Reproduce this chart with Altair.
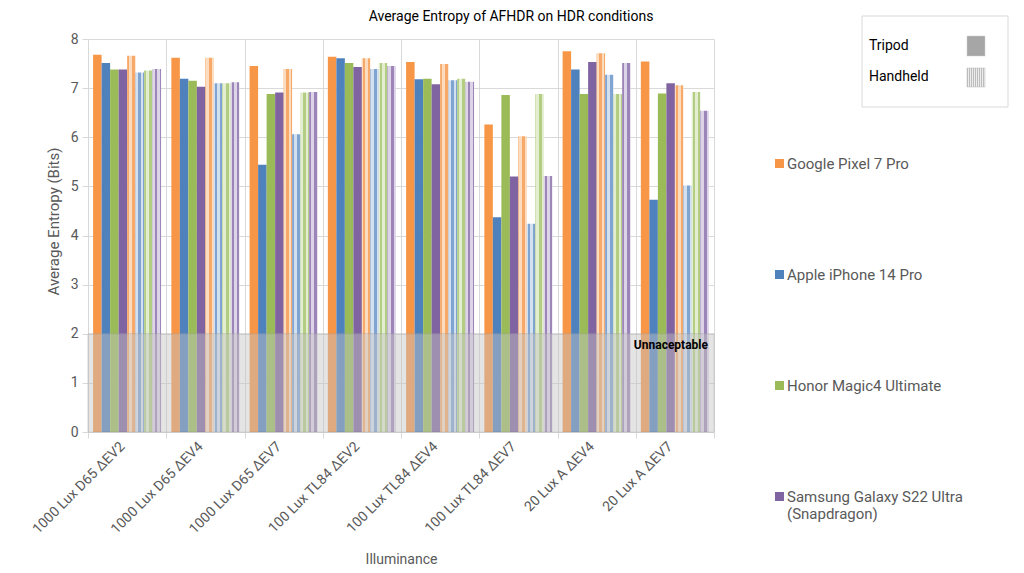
import altair as alt
import pandas as pd

conditions = ["1000 Lux D65 ΔEV2", "1000 Lux D65 ΔEV4", "1000 Lux D65 ΔEV7",
              "100 Lux TL84 ΔEV2", "100 Lux TL84 ΔEV4", "100 Lux TL84 ΔEV7",
              "20 Lux A ΔEV4", "20 Lux A ΔEV7"]
devices = ["Google Pixel 7 Pro", "Apple iPhone 14 Pro", "Honor Magic4 Ultimate",
           "Samsung Galaxy S22 Ultra (Snapdragon)"]
mounts = ["Tripod", "Handheld"]

tripod_pixel = [7.68, 7.62, 7.45, 7.64, 7.53, 6.26, 7.75, 7.54]
tripod_iphone = [7.51, 7.19, 5.44, 7.61, 7.18, 4.37, 7.38, 4.73]
tripod_honor = [7.38, 7.15, 6.88, 7.51, 7.19, 6.86, 6.88, 6.89]
tripod_samsung = [7.38, 7.03, 6.91, 7.43, 7.08, 5.20, 7.53, 7.10]
handheld_pixel = [7.66, 7.62, 7.39, 7.61, 7.49, 6.02, 7.71, 7.06]
handheld_iphone = [7.32, 7.10, 6.06, 7.39, 7.16, 4.24, 7.27, 5.02]
handheld_honor = [7.36, 7.10, 6.91, 7.51, 7.19, 6.88, 6.88, 6.92]
handheld_samsung = [7.39, 7.12, 6.92, 7.45, 7.13, 5.21, 7.51, 6.54]

unacceptable_limit = [2.0]

colors = ["#F79646", "#4F81BD", "#9BBB59", "#8064A2"]
hatch_pairs = [("#f6a968", "#fcdcbf"), ("#80a4d2", "#d3e0f0"),
               ("#b3ce83", "#e3eed0"), ("#9c86b9", "#ddd4e8")]

series = {
    ("Tripod", devices[0]): tripod_pixel,
    ("Tripod", devices[1]): tripod_iphone,
    ("Tripod", devices[2]): tripod_honor,
    ("Tripod", devices[3]): tripod_samsung,
    ("Handheld", devices[0]): handheld_pixel,
    ("Handheld", devices[1]): handheld_iphone,
    ("Handheld", devices[2]): handheld_honor,
    ("Handheld", devices[3]): handheld_samsung,
}

rows = []
for (mount, dev), vals in series.items():
    for cond, v in zip(conditions, vals):
        rows.append({"Condition": cond, "Device": dev, "Mount": mount,
                     "Series": mount + "|" + dev, "Value": v})
df = pd.DataFrame(rows)
series_order = [m + "|" + d for m in mounts for d in devices]

W, H = 626, 393


def stripes(c1, c2, n=14):
    stops = []
    for i in range(n):
        col = c1 if i % 2 == 0 else c2
        stops.append(alt.GradientStop(color=col, offset=i / n))
        stops.append(alt.GradientStop(color=col, offset=(i + 1) / n))
    return alt.LinearGradient(gradient="linear", stops=stops, x1=0, x2=1, y1=0, y2=0)


x_enc = alt.X("Condition:N", sort=conditions,
              scale=alt.Scale(domain=conditions, paddingInner=0, paddingOuter=0),
              axis=alt.Axis(title="Illuminance", tickBand="extent", labelAngle=-45,
                            labelAlign="right", labelBaseline="middle", labelPadding=6,
                            labelOffset=-5,
                            labelFontSize=14, labelColor="#595959", labelFont="Roboto",
                            tickSize=6, tickColor="#d9d9d9", domainColor="#d9d9d9",
                            grid=True, gridColor="#d9d9d9",
                            titleFontSize=14, titleFontWeight="normal", titleColor="#595959",
                            titleFont="Roboto", titleY=127, titleBaseline="middle",
                            labelOverlap=False))
xoff_enc = alt.XOffset("Series:N", scale=alt.Scale(domain=series_order, paddingInner=0,
                                                    paddingOuter=0.6))
y_axis = alt.Axis(title="Average Entropy (Bits)", values=list(range(9)),
                  labelFontSize=14, labelColor="#595959", labelFont="Roboto",
                  labelPadding=4, tickSize=6, tickColor="#d9d9d9",
                  domainColor="#d9d9d9", gridColor="#d9d9d9",
                  titleFontSize=15, titleFontWeight="normal", titleColor="#595959",
                  titleFont="Roboto", titleX=-35, titleY=182, titleAngle=270,
                  titleBaseline="middle", titleAlign="center")
y_scale = alt.Scale(domain=[0, 8], nice=False)
y_enc = alt.Y("Value:Q", scale=y_scale, axis=y_axis)

tripod = alt.Chart(df).transform_filter(alt.datum.Mount == "Tripod").mark_bar().encode(
    x=x_enc, xOffset=xoff_enc, y=y_enc,
    color=alt.Color("Device:N", scale=alt.Scale(domain=devices, range=colors),
                    legend=alt.Legend(orient="none", legendX=684, legendY=117, title=None,
                                      symbolType="square", symbolSize=81,
                                      symbolStrokeWidth=0, labelFontSize=15,
                                      labelColor="#595959", labelFont="Roboto",
                                      labelLimit=300, rowPadding=95, labelOffset=0,
                                      labelExpr="datum.label == 'Samsung Galaxy S22 Ultra (Snapdragon)' ? ['Samsung Galaxy S22 Ultra', '(Snapdragon)'] : datum.label"))
)

handheld_layers = []
for dev, (c1, c2) in zip(devices, hatch_pairs):
    handheld_layers.append(
        alt.Chart(df).transform_filter(
            (alt.datum.Mount == "Handheld") & (alt.datum.Device == dev)
        ).mark_bar(fill=stripes(c1, c2)).encode(x=x_enc, xOffset=xoff_enc, y=y_enc)
    )

band_df = pd.DataFrame({"Value": [0.0], "Top": unacceptable_limit})
band = alt.Chart(band_df).mark_rect(fill="#c4c4c4", opacity=0.45, stroke="#a0a0a0",
                                    strokeWidth=1).encode(
    x=alt.value(0), x2=alt.value(W), y=y_enc, y2="Top:Q")
band_text = alt.Chart(band_df).mark_text(text="Unnaceptable", fontWeight="bold",
                                         fontSize=12, font="Roboto", align="right",
                                         baseline="middle", color="#000000").encode(
    x=alt.value(620), y=alt.value(306))

one = pd.DataFrame({"k": [0]})
title_txt = alt.Chart(one).mark_text(text="Average Entropy of AFHDR on HDR conditions",
                                     fontSize=14, font="Roboto", align="center",
                                     baseline="middle", color="#000000").encode(
    x=alt.value(423), y=alt.value(-22))
box = alt.Chart(one).mark_rect(fill="white", stroke="#d9d9d9", strokeWidth=1).encode(
    x=alt.value(774), x2=alt.value(920), y=alt.value(-23), y2=alt.value(68))
tri_txt = alt.Chart(one).mark_text(text=mounts[0], fontSize=14, font="Roboto", align="left",
                                   baseline="middle", color="#000000").encode(
    x=alt.value(781), y=alt.value(7))
hh_txt = alt.Chart(one).mark_text(text=mounts[1], fontSize=14, font="Roboto", align="left",
                                  baseline="middle", color="#000000").encode(
    x=alt.value(781), y=alt.value(38))
tri_sq = alt.Chart(one).mark_rect(fill="#a6a6a6", stroke="#cccccc", strokeWidth=0.5).encode(
    x=alt.value(879), x2=alt.value(897), y=alt.value(-3), y2=alt.value(17))
hh_sq = alt.Chart(one).mark_rect(fill=stripes("#bdbdbd", "#ececec", 18), stroke="#bbbbbb",
                                 strokeWidth=0.5).encode(
    x=alt.value(879), x2=alt.value(897), y=alt.value(29), y2=alt.value(48))

chart = alt.layer(tripod, *handheld_layers, band, band_text, title_txt, box, tri_txt,
                  hh_txt, tri_sq, hh_sq).properties(
    width=W, height=H,
    padding={"left": 80, "top": 31, "right": 302, "bottom": 133},
    autosize=alt.AutoSizeParams(type="none"),
).configure_view(stroke=None)

chart.save("out.html", embed_options={"renderer": "svg", "actions": False})
